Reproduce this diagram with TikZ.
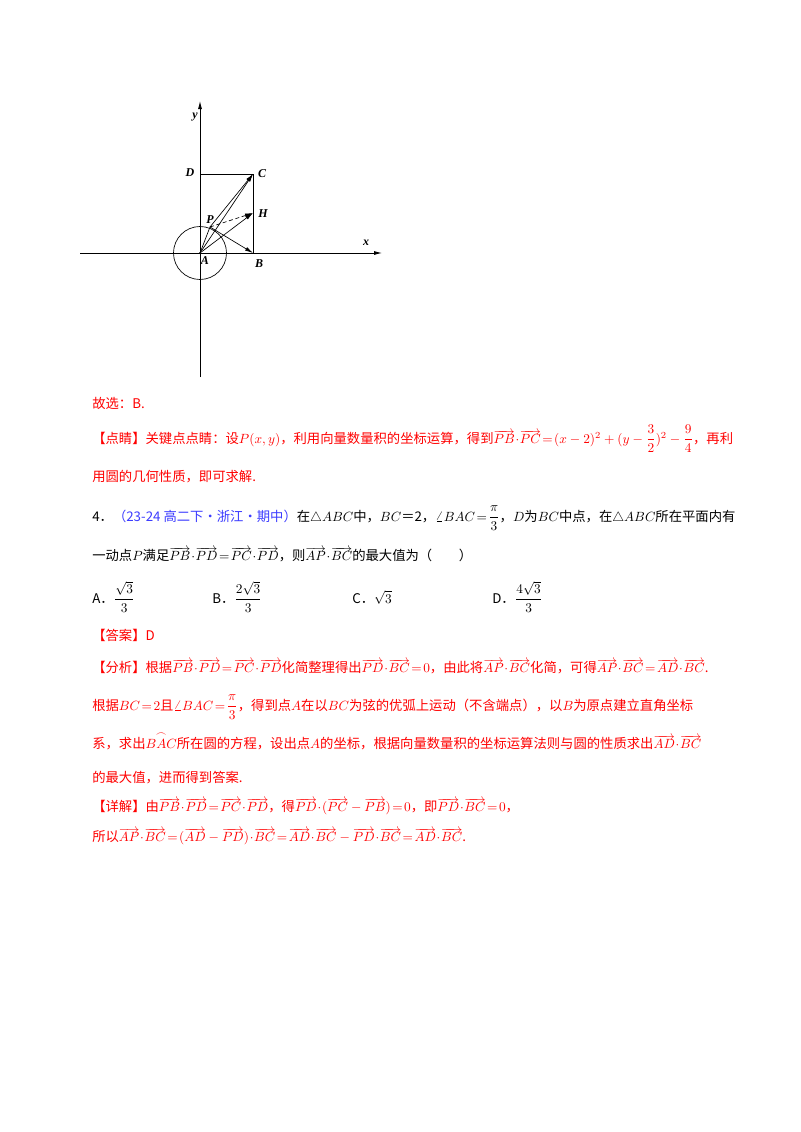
\documentclass[tikz,border=0pt]{standalone}
\usepackage{fontspec}
\setmainfont{Noto Sans CJK SC}
\newfontfamily\tms{Liberation Serif}
\usetikzlibrary{arrows.meta}
\definecolor{rd}{RGB}{255,0,0}
\definecolor{bl}{RGB}{60,60,255}
\newcommand{\vv}[1]{\overrightarrow{#1}}
\newcommand{\dt}{\mskip1mu{\cdot}\mskip1mu}
\newcommand{\eqq}{\mskip2mu{=}\mskip2mu}
\newcommand{\df}[2]{{\displaystyle\frac{#1}{#2}}}
\begin{document}
\begin{tikzpicture}[x=0.75pt,y=-0.75pt,
  ax/.style={line width=0.6pt,-{Latex[length=6pt,width=3pt]}},
  vec/.style={line width=0.5pt,-{Latex[length=6pt,width=3pt]}},
  lb/.style={font=\fontsize{9}{9}\selectfont\tms\bfseries\itshape,inner sep=1pt},
  tx/.style={anchor=base west,inner sep=0pt,font=\fontsize{10}{12}\selectfont},
  r/.style={tx,text=rd}]
\useasboundingbox (0,0) rectangle (800,1132);
% figure
\coordinate (A) at (200,253);
\coordinate (B) at (253,253);
\coordinate (C) at (253,174);
\coordinate (D) at (200,174);
\coordinate (H) at (253,213);
\coordinate (P) at (210,227);
\coordinate (xl) at (80,253); \coordinate (xr) at (382,253);
\coordinate (yb) at (200,377); \coordinate (yt) at (200,101);
\draw[ax] (xl) -- (xr);
\draw[ax] (yb) -- (yt);
\draw[line width=0.5pt] (A) circle (26.5);
\draw[line width=0.5pt] (D) -- (C) -- (B);
\draw[vec] (A) -- (C);
\draw[vec] (A) -- (H);
\draw[vec] (P) -- (C);
\draw[vec,densely dashed] (P) -- (H);
\draw[vec] (P) -- (B);
\draw[line width=0.5pt] (A) -- (P);
\fill (A) circle (1);
\node[lb] at (195,117) {y};
\node[lb] at (366,243) {x};
\node[lb] at (190,173) {D};
\node[lb] at (262,174) {C};
\node[lb] at (263,214) {H};
\node[lb] at (210,220) {P};
\node[lb] at (205,261) {A};
\node[lb] at (259,264) {B};
% text
\node[r] at (92,408) {故选：B.};
\node[r] at (92,443) {【点睛】关键点点睛：设$P(x,y)$，利用向量数量积的坐标运算，得到$\vv{PB}\dt\vv{PC}\eqq(x-2)^2+(y-\df32)^2-\df94$，再利};
\node[r] at (92,481) {用圆的几何性质，即可求解.};
\node[tx] at (92,521) {4．\textcolor{bl}{（23-24 高二下·浙江·期中）}在$\triangle ABC$中，$BC$＝2，$\angle BAC\eqq\df{\pi}{3}$，$D$为$BC$中点，在$\triangle ABC$所在平面内有};
\node[tx] at (92,560) {一动点$P$满足$\vv{PB}\dt\vv{PD}\eqq\vv{PC}\dt\vv{PD}$，则$\vv{AP}\dt\vv{BC}$的最大值为（\quad\quad）};
\node[tx] at (92,603) {A．$\df{\sqrt3}{3}$};
\node[tx] at (212,603) {B．$\df{2\sqrt3}{3}$};
\node[tx] at (352,603) {C．$\sqrt3$};
\node[tx] at (492,603) {D．$\df{4\sqrt3}{3}$};
\node[r] at (92,640) {【答案】D};
\node[r] at (92,672) {【分析】根据$\vv{PB}\dt\vv{PD}\eqq\vv{PC}\dt\vv{PD}$化简整理得出$\vv{PD}\dt\vv{BC}\eqq0$，由此将$\vv{AP}\dt\vv{BC}$化简，可得$\vv{AP}\dt\vv{BC}\eqq\vv{AD}\dt\vv{BC}$.};
\node[r] at (92,710) {根据$BC\eqq2$且$\angle BAC\eqq\df{\pi}{3}$，得到点$A$在以$BC$为弦的优弧上运动（不含端点），以$B$为原点建立直角坐标};
\node[r] at (92,748) {系，求出$\stackrel{\frown}{BAC}$所在圆的方程，设出点$A$的坐标，根据向量数量积的坐标运算法则与圆的性质求出$\vv{AD}\dt\vv{BC}$};
\node[r] at (92,782) {的最大值，进而得到答案.};
\node[r] at (92,811) {【详解】由$\vv{PB}\dt\vv{PD}\eqq\vv{PC}\dt\vv{PD}$，得$\vv{PD}\dt(\vv{PC}-\vv{PB})\eqq0$，即$\vv{PD}\dt\vv{BC}\eqq0$，};
\node[r] at (92,841) {所以$\vv{AP}\dt\vv{BC}\eqq(\vv{AD}-\vv{PD})\dt\vv{BC}\eqq\vv{AD}\dt\vv{BC}-\vv{PD}\dt\vv{BC}\eqq\vv{AD}\dt\vv{BC}$.};
\end{tikzpicture}
\end{document}
